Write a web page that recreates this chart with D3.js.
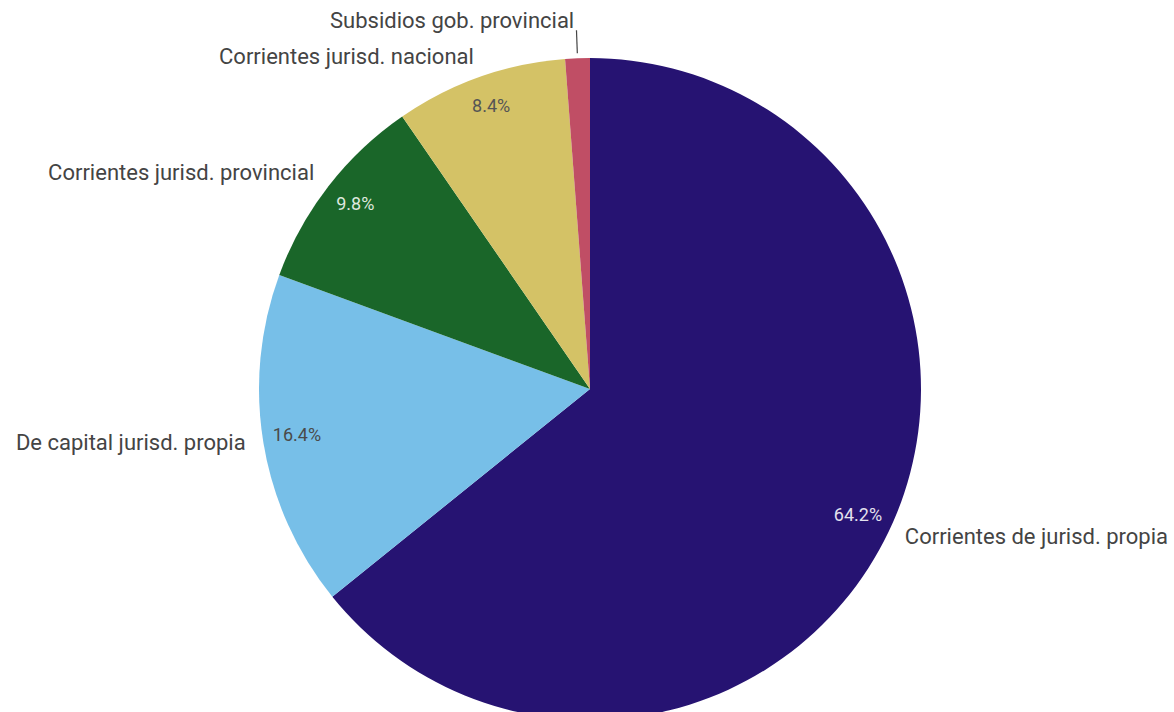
<!DOCTYPE html>
<html>
<head>
<meta charset="utf-8">
<script src="https://cdn.jsdelivr.net/npm/d3@7"></script>
<style>
  body { margin: 0; background: #fff; }
  svg { display: block; font-family: Roboto, "Noto Sans", sans-serif; }
</style>
</head>
<body>
<div id="chart"></div>
<script>
const categories = [
    "Corrientes de jurisd. propia",
    "De capital jurisd. propia",
    "Corrientes jurisd. provincial",
    "Corrientes jurisd. nacional",
    "Subsidios gob. provincial"
];
const values = [64.2, 16.4, 9.8, 8.4, 1.2];
const colors = ["#261372", "#77bfe8", "#1a6629", "#d4c266", "#c04e65"];
const pctColors = ["#e4e2ee", "#4a4a4a", "#dfe8df", "#555555", "#ffffff"];

const width = 1174, height = 712;
const cx = 590, cy = 389, radius = 331;

const svg = d3.select("#chart")
    .append("svg")
    .attr("width", width)
    .attr("height", height);

const g = svg.append("g")
    .attr("transform", `translate(${cx},${cy})`);

const data = categories.map((c, i) => ({ category: c, value: values[i], color: colors[i], pct: pctColors[i] }));

const pie = d3.pie()
    .sort(null)
    .value(d => d.value);

const arc = d3.arc()
    .innerRadius(0)
    .outerRadius(radius);

const arcs = pie(data);

g.selectAll(".slice")
    .data(arcs)
    .enter()
    .append("path")
    .attr("class", "slice")
    .attr("d", arc)
    .attr("fill", d => d.data.color);

// point at a radius along the slice's middle angle
function polar(d, r) {
    const a = (d.startAngle + d.endAngle) / 2;
    return [Math.sin(a) * r, -Math.cos(a) * r];
}

// percentage labels inside (skip very small slices)
g.selectAll(".pct")
    .data(arcs.filter(d => d.data.value >= 3))
    .enter()
    .append("text")
    .attr("class", "pct")
    .attr("x", d => polar(d, 297)[0])
    .attr("y", d => polar(d, 297)[1] - 3)
    .attr("text-anchor", "middle")
    .attr("dominant-baseline", "central")
    .attr("font-size", 18)
    .attr("fill", d => d.data.pct)
    .text(d => d.data.value.toFixed(1) + "%");

// leader line for small slices
const small = arcs.filter(d => d.data.value < 3);
g.selectAll(".leader")
    .data(small)
    .enter()
    .append("line")
    .attr("class", "leader")
    .attr("x1", d => polar(d, radius + 5)[0])
    .attr("y1", d => polar(d, radius + 5)[1])
    .attr("x2", d => polar(d, radius + 28)[0])
    .attr("y2", d => polar(d, radius + 28)[1])
    .attr("stroke", "#444")
    .attr("stroke-width", 1.2);

// category labels outside
g.selectAll(".cat")
    .data(arcs)
    .enter()
    .append("text")
    .attr("class", "cat")
    .attr("x", d => polar(d, d.data.value < 3 ? 366 : 349)[0] + (d.data.value < 3 ? -2 : 0))
    .attr("y", d => polar(d, d.data.value < 3 ? 366 : 349)[1] - 3)
    .attr("text-anchor", d => polar(d, 1)[0] >= 0 ? "start" : "end")
    .attr("dominant-baseline", "central")
    .attr("font-size", 22)
    .attr("fill", "#444444")
    .text(d => d.data.category);
</script>
</body>
</html>
